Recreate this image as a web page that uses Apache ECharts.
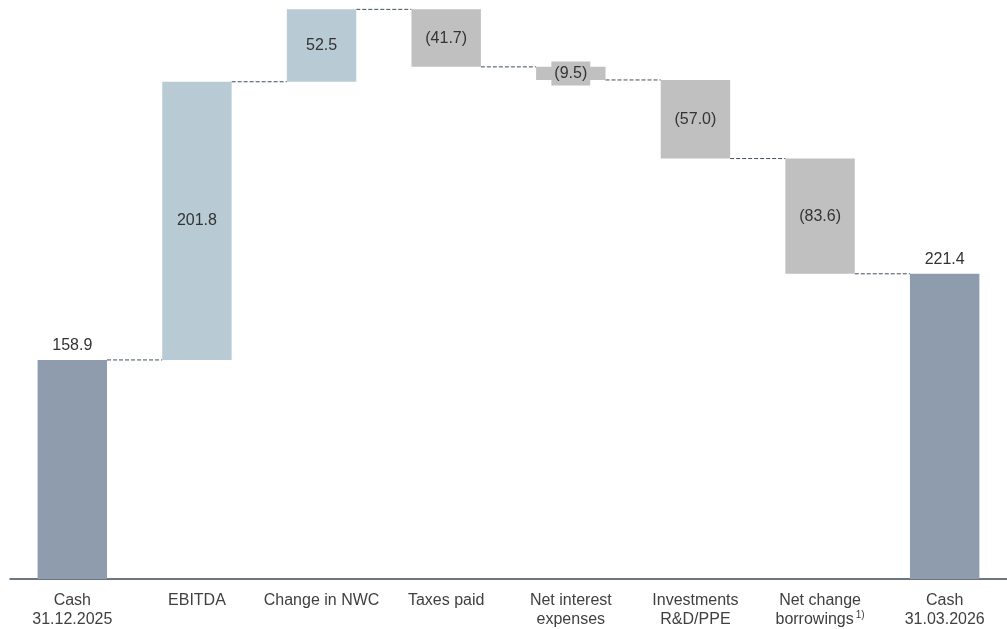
<!DOCTYPE html>
<html>
<head>
<meta charset="utf-8">
<script src="https://cdn.jsdelivr.net/npm/echarts@6/dist/echarts.min.js"></script>
<style>html,body{margin:0;padding:0;background:#fff}#c{width:1007px;height:629px}</style>
</head>
<body>
<div id="c"></div>
<script>
const categories = ['Cash\n31.12.2025', 'EBITDA', 'Change in NWC', 'Taxes paid', 'Net interest\nexpenses', 'Investments\nR&D/PPE', 'Net change\nborrowings', 'Cash\n31.03.2026'];
const footnotes = ['', '', '', '', '', '', '1)', ''];
const values = [158.9, 201.8, 52.5, -41.7, -9.5, -57.0, -83.6, 221.4];
const kinds = ['total', 'delta', 'delta', 'delta', 'delta', 'delta', 'delta', 'total'];

const colors = { total: '#8e9cae', pos: '#b8cad3', neg: '#c0c0c0' };
const barRatio = 0.557;

// build waterfall
const bases = [], heights = [], levels = [];
let running = 0;
values.forEach((v, i) => {
  if (kinds[i] === 'total') {
    bases.push(0); heights.push(v); running = v;
  } else {
    const end = running + v;
    bases.push(Math.min(running, end)); heights.push(Math.abs(v)); running = end;
  }
  levels.push(running);
});

const visible = values.map((v, i) => {
  const kind = kinds[i] === 'total' ? 'total' : (v >= 0 ? 'pos' : 'neg');
  const txt = kind === 'neg' ? '(' + Math.abs(v).toFixed(1) + ')' : v.toFixed(1);
  const label = kind === 'total'
    ? { show: true, position: 'top', distance: 6, formatter: txt }
    : { show: true, position: 'inside', formatter: txt,
        backgroundColor: kind === 'neg' ? colors.neg : 'transparent', padding: [4, 3] };
  return { value: heights[i], itemStyle: { color: colors[kind] }, label };
});

const connectorData = levels.slice(0, -1).map((l, i) => [i, l]);

const chart = echarts.init(document.getElementById('c'));
chart.setOption({
  animation: false,
  grid: { left: 10, right: -8, top: 0, bottom: 49 },
  xAxis: {
    type: 'category', data: categories,
    axisLine: { lineStyle: { color: '#3a4a57', width: 1.5 } },
    axisTick: { show: false },
    axisLabel: {
      margin: 12, color: '#404040', fontFamily: 'Liberation Sans', fontSize: 16, lineHeight: 19,
      interval: 0,
      formatter: (val, idx) => footnotes[idx] ? val + '{sup|' + footnotes[idx] + '}' : val,
      rich: { sup: { fontSize: 10, verticalAlign: 'top', padding: [0, 0, 6, 2], color: '#404040', fontFamily: 'Liberation Sans' } }
    }
  },
  yAxis: { type: 'value', min: 0, max: 420, show: false, splitLine: { show: false } },
  series: [
    { type: 'bar', stack: 'w', data: bases, itemStyle: { color: 'transparent' }, barWidth: (barRatio * 100) + '%', silent: true },
    { type: 'bar', stack: 'w', data: visible, barWidth: (barRatio * 100) + '%',
      label: { color: '#333', fontFamily: 'Liberation Sans', fontSize: 16 } },
    { type: 'custom', data: connectorData, encode: { x: 0, y: 1 }, z: 1,
      renderItem: (params, api) => {
        const i = api.value(0), l = api.value(1);
        const p1 = api.coord([i, l]), p2 = api.coord([i + 1, l]);
        const half = api.size([1, 0])[0] * barRatio / 2;
        return { type: 'line', shape: { x1: p1[0] + half, y1: p1[1], x2: p2[0] - half, y2: p2[1] },
          style: { stroke: '#3e4f5c', lineWidth: 1, lineDash: [4, 2] } };
      } }
  ]
});
</script>
</body>
</html>
